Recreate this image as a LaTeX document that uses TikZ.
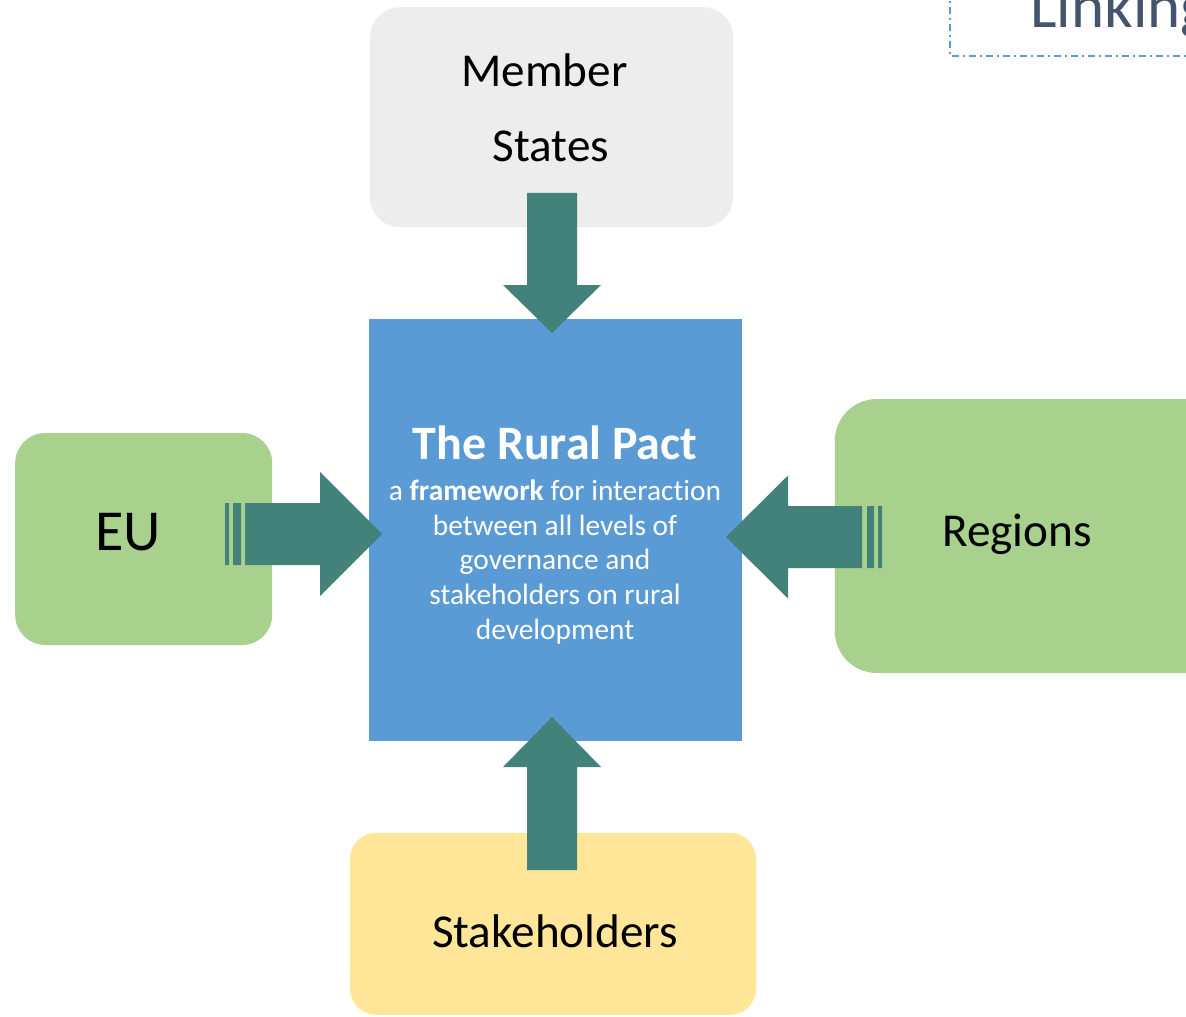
\documentclass[tikz,border=0pt]{standalone}
\usepackage{fontspec}
\setmainfont{Carlito}[Ligatures=NoCommon]
\usepackage{xcolor}
\usetikzlibrary{positioning,calc}
\definecolor{msgray}{HTML}{EDEDED}
\definecolor{pactblue}{HTML}{5B9BD5}
\definecolor{leafgreen}{HTML}{A9D18E}
\definecolor{sandyellow}{HTML}{FFE699}
\definecolor{arrowteal}{HTML}{42827A}
\definecolor{slatetext}{HTML}{44546A}
% block arrow: tail, tip, half shaft, half head, head length
\newcommand{\fatarrow}[5]{%
  \coordinate (hb) at ($(#2)!#5!(#1)$);
  \fill[arrowteal] ($(#1)!#3!90:(#2)$) -- ($(hb)!#3!90:(#2)$) -- ($(hb)!#4!90:(#2)$) -- (#2)
    -- ($(hb)!#4!-90:(#2)$) -- ($(hb)!#3!-90:(#2)$) -- ($(#1)!#3!-90:(#2)$) -- cycle;
}

\begin{document}
\begin{tikzpicture}[x=0.5pt, y=-0.5pt,
    box/.style={inner sep=0pt},
    lbl/.style={inner sep=0pt, anchor=base, font=\fontsize{23.6}{28}\selectfont}]
    \clip (0,0) rectangle (1186,1016);

    \node[box, fill=pactblue, minimum width=186.5pt, minimum height=211pt] (pact) at (555.5,530) {};
    \node[box, fill=msgray, rounded corners=15pt, minimum width=181.5pt, minimum height=110pt, above=45.5pt of pact, xshift=-2pt] (member) {};
    \node[box, fill=leafgreen, rounded corners=15pt, minimum width=128.5pt, minimum height=106pt, left=48pt of pact, yshift=-4.5pt] (eu) {};
    \node[box, fill=leafgreen, rounded corners=21pt, minimum width=198pt, minimum height=137pt, right=46pt of pact, yshift=-3pt] (regions) {};
    \node[box, fill=sandyellow, rounded corners=13pt, minimum width=203pt, minimum height=91pt, below=45.5pt of pact, xshift=-1.25pt] (stake) {};

    % arrows into the pact
    \coordinate (ms-tail) at (552,193);  \coordinate (ms-tip) at (552,333);
    \coordinate (st-tail) at (552,870);  \coordinate (st-tip) at (552,717);
    \coordinate (eu-tail) at (245,534);  \coordinate (eu-tip) at (382,534);
    \coordinate (rg-tail) at (862,537);  \coordinate (rg-tip) at (726,537);
    \fatarrow{ms-tail}{ms-tip}{12.5pt}{24.5pt}{24pt}
    \fatarrow{st-tail}{st-tip}{12.5pt}{24.5pt}{25pt}
    \fatarrow{eu-tail}{eu-tip}{15.5pt}{31pt}{31pt}
    \fatarrow{rg-tail}{rg-tip}{15.5pt}{30.75pt}{31pt}
    \fill[arrowteal] (225,503) rectangle (229,565) (233,503) rectangle (241,565);
    \fill[arrowteal] (867,506) rectangle (874,568) (878,506) rectangle (882,568);

    \node[lbl] (member-a) at (544.5,87) {Member};
    \node[lbl] (member-b) at (551,162) {States};
    \node[lbl, font=\fontsize{29}{34}\selectfont] (eu-txt) at (128,550) {EU};
    \node[lbl] (regions-txt) at (1017,546) {Regions};
    \node[lbl] (stake-txt) at (555,947) {Stakeholders};
    \node[lbl, text=white, font=\bfseries\fontsize{24}{28}\selectfont] (pact-title) at (555,459) {The Rural Pact};
    \node[text=white, inner sep=0pt, align=center, font=\fontsize{14.7}{17.35}\selectfont] (pact-body) at (555,562)
        {a \textbf{framework} for interaction\\between all levels of\\governance and\\stakeholders on rural\\development};

    % corner of the next slide box
    \draw[pactblue, line width=0.9pt, dash pattern=on 3.5pt off 2pt on 1pt off 2pt] (950,-10) |- (1200,56);
    \node[inner sep=0pt, anchor=base west, text=slatetext, font=\fontsize{31.5}{36}\selectfont] (linking) at (1030,28) {Linking};
\end{tikzpicture}
\end{document}
